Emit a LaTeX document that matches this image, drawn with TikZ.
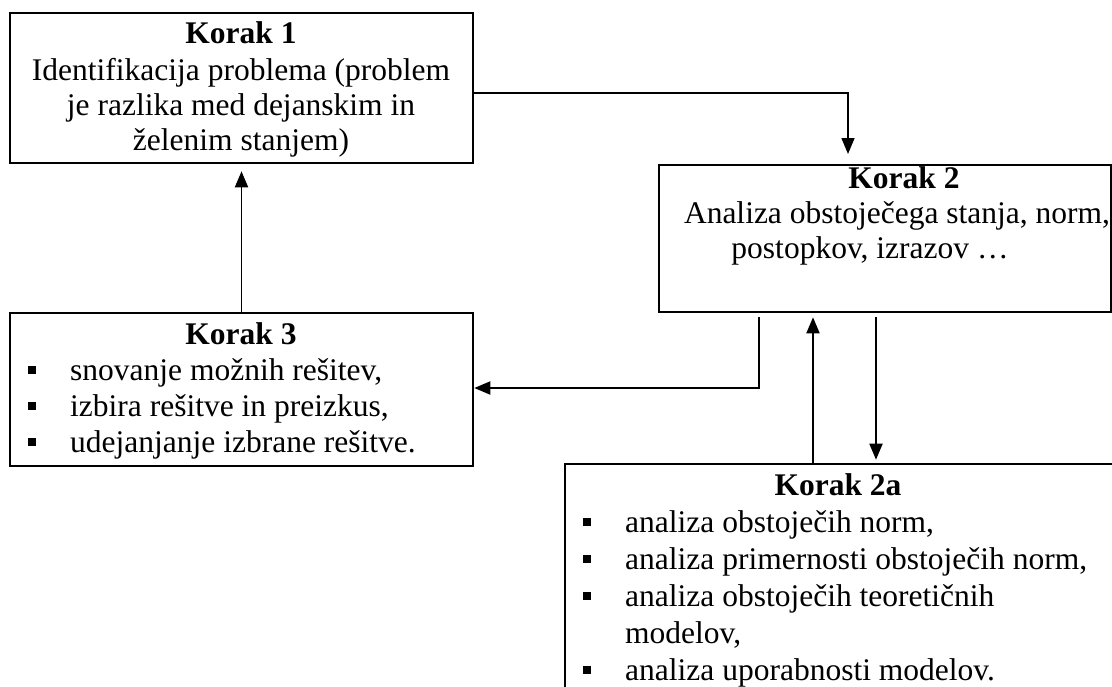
\documentclass[tikz,border=0pt]{standalone}
\usepackage{fontspec}
\setmainfont{Liberation Serif}
\usetikzlibrary{arrows.meta}
\begin{document}
\begin{tikzpicture}[x=1pt,y=-1pt,
  box/.style={draw, line width=2.6pt, rectangle, inner sep=0pt},
  arr/.style={line width=1.9pt, -{Triangle[length=16pt,width=13pt]}},
  txt/.style={inner sep=0pt, anchor=base, font=\fontsize{31.5}{37}\selectfont},
  ltxt/.style={txt, anchor=base west},
  bul/.style={fill, rectangle, minimum size=8.5pt, inner sep=0pt}]
\useasboundingbox (0,0) rectangle (1112,686);
\clip (0,0) rectangle (1112,686);

% boxes
\node[box, minimum width=463pt, minimum height=150pt] (b1) at (241.5,88) {};
\node[box, minimum width=452pt, minimum height=147pt] (b2) at (885,238.5) {};
\node[box, minimum width=463pt, minimum height=153pt] (b3) at (241.5,389.5) {};
\node[box, minimum width=575pt, minimum height=246pt] (b4) at (852.5,587) {};

% Korak 1
\node[txt] (t1a) at (241,43) {\textbf{Korak 1}};
\node[txt] (t1b) at (241,80) {Identifikacija problema (problem};
\node[txt] (t1c) at (241,115) {je razlika med dejanskim in};
\node[txt] (t1d) at (241,150) {želenim stanjem)};

% Korak 2
\node[txt] (t2a) at (904,188) {\textbf{Korak 2}};
\node[txt] (t2b) at (897,223) {Analiza obstoječega stanja, norm,};
\node[txt] (t2c) at (870,258) {postopkov, izrazov …};

% Korak 3
\node[txt] (t3a) at (241,344) {\textbf{Korak 3}};
\node[bul] (p31) at (32,370) {};
\node[ltxt] (t31) at (70,380) {snovanje možnih rešitev,};
\node[bul] (p32) at (32,406) {};
\node[ltxt] (t32) at (70,416) {izbira rešitve in preizkus,};
\node[bul] (p33) at (32,442) {};
\node[ltxt] (t33) at (70,452) {udejanjanje izbrane rešitve.};

% Korak 2a
\node[txt] (t4a) at (838,495) {\textbf{Korak 2a}};
\node[bul] (p41) at (587,522) {};
\node[ltxt] (t41) at (625,532) {analiza obstoječih norm,};
\node[bul] (p42) at (587,559) {};
\node[ltxt] (t42) at (625,569) {analiza primernosti obstoječih norm,};
\node[bul] (p43) at (587,596) {};
\node[ltxt] (t43) at (625,606) {analiza obstoječih teoretičnih};
\node[ltxt] (t44) at (625,643) {modelov,};
\node[bul] (p45) at (587,670) {};
\node[ltxt] (t45) at (625,680) {analiza uporabnosti modelov.};

% connectors
\coordinate (c1) at (848,154);
\draw[arr, line width=1.5pt] ([yshift=-5pt]b1.east) -| (c1);
\draw[arr] (b3.north) -- ([yshift=-7pt]b1.south);
\coordinate (c3) at (759,317);
\coordinate (h3) at (0,388);
\draw[arr] (c3) |- (b3.east |- h3);
\coordinate (u1) at (813,0);
\draw[arr] (b4.north -| u1) -- ([yshift=-4pt]b2.south -| u1);
\coordinate (d1) at (876,317);
\draw[arr] (d1) -- ([yshift=3pt]b4.north -| d1);
\end{tikzpicture}
\end{document}
